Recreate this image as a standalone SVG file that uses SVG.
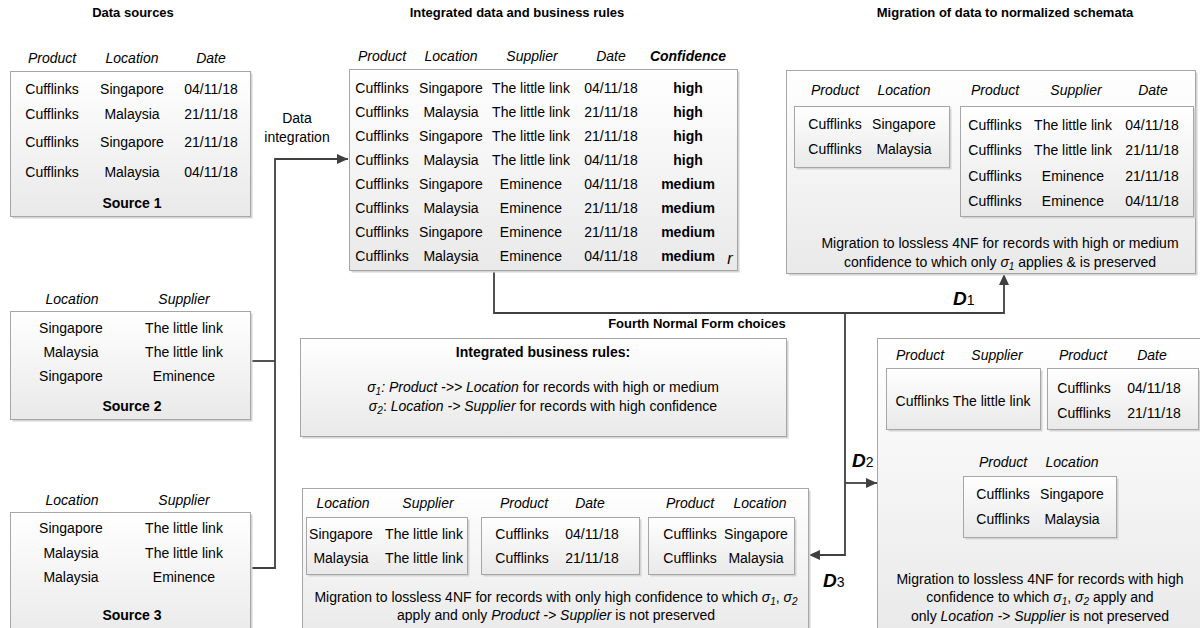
<svg xmlns="http://www.w3.org/2000/svg" width="1200" height="628" viewBox="0 0 1200 628">
<defs>
<linearGradient id="g" x1="0" y1="0" x2="0" y2="1">
<stop offset="0" stop-color="#ffffff"/>
<stop offset="1" stop-color="#e9e9e9"/>
</linearGradient>
<marker id="ah" markerUnits="userSpaceOnUse" markerWidth="11" markerHeight="10" refX="11" refY="5" orient="auto">
<path d="M0,0 L11,5 L0,10 z" fill="#404040"/>
</marker>
<style>
text{font-family:"Liberation Sans",Arial,sans-serif;font-size:14px;fill:#000;text-anchor:middle}
.i{font-style:italic}
.b{font-weight:bold}
.t{font-weight:bold;font-size:13px}
.s{font-size:10px}
.d{font-weight:bold;font-style:italic;font-size:19px;text-anchor:start}
.ds{font-size:14px;font-weight:normal;font-style:normal}
.box{fill:url(#g);stroke:#a6a6a6;stroke-width:1}
.sh{fill:#d4d4d4}
.c{fill:none;stroke:#404040;stroke-width:1.8}
</style>
</defs>

<g id="titles">
<text class="t" x="133" y="17">Data sources</text>
<text class="t" x="517" y="17">Integrated data and business rules</text>
<text class="t" x="1005" y="17">Migration of data to normalized schemata</text>
<text class="t" x="697" y="328">Fourth Normal Form choices</text>
</g>

<g id="connectors">
<path class="c" d="M250,361 H275"/>
<path class="c" d="M250,568 H275 V159 H348" marker-end="url(#ah)"/>
<path class="c" d="M494,270 V313 H1004 V274" marker-end="url(#ah)"/>
<path class="c" d="M845,313 V555 H809" marker-end="url(#ah)"/>
<path class="c" d="M845,483 H877" marker-end="url(#ah)"/>
<text x="297" y="123">Data</text>
<text x="297" y="142">integration</text>
<text class="d" x="953" y="305">D<tspan class="ds">1</tspan></text>
<text class="d" x="852" y="467">D<tspan class="ds">2</tspan></text>
<text class="d" x="823" y="587">D<tspan class="ds">3</tspan></text>
</g>

<g id="source1">
<rect class="sh" x="12.5" y="73.5" width="240" height="145"/>
<rect class="box" x="10.5" y="71.5" width="240" height="145"/>
<text class="i" x="52" y="63">Product</text>
<text class="i" x="132" y="63">Location</text>
<text class="i" x="211" y="63">Date</text>
<text x="52" y="94">Cufflinks</text><text x="132" y="94">Singapore</text><text x="211" y="94">04/11/18</text>
<text x="52" y="119">Cufflinks</text><text x="132" y="119">Malaysia</text><text x="211" y="119">21/11/18</text>
<text x="52" y="147">Cufflinks</text><text x="132" y="147">Singapore</text><text x="211" y="147">21/11/18</text>
<text x="52" y="177">Cufflinks</text><text x="132" y="177">Malaysia</text><text x="211" y="177">04/11/18</text>
<text class="b" x="132" y="208">Source 1</text>
</g>

<g id="source2">
<rect class="sh" x="12.5" y="313.5" width="240" height="108"/>
<rect class="box" x="10.5" y="311.5" width="240" height="108"/>
<text class="i" x="72" y="304">Location</text>
<text class="i" x="184" y="304">Supplier</text>
<text x="71" y="333">Singapore</text><text x="184" y="333">The little link</text>
<text x="71" y="357">Malaysia</text><text x="184" y="357">The little link</text>
<text x="71" y="381">Singapore</text><text x="184" y="381">Eminence</text>
<text class="b" x="132" y="411">Source 2</text>
</g>

<g id="source3">
<rect class="sh" x="12.5" y="514.5" width="240" height="130"/>
<rect class="box" x="10.5" y="512.5" width="240" height="130"/>
<text class="i" x="72" y="505">Location</text>
<text class="i" x="184" y="505">Supplier</text>
<text x="71" y="533">Singapore</text><text x="184" y="533">The little link</text>
<text x="71" y="558">Malaysia</text><text x="184" y="558">The little link</text>
<text x="71" y="582">Malaysia</text><text x="184" y="582">Eminence</text>
<text class="b" x="132" y="620">Source 3</text>
</g>

<g id="integrated">
<rect class="sh" x="351.5" y="71.5" width="388" height="201"/>
<rect class="box" x="349.5" y="69.5" width="388" height="201"/>
<text class="i" x="382" y="61">Product</text>
<text class="i" x="451" y="61">Location</text>
<text class="i" x="532" y="61">Supplier</text>
<text class="i" x="611" y="61">Date</text>
<text class="i b" x="688" y="61">Confidence</text>
<text x="382" y="93">Cufflinks</text><text x="451" y="93">Singapore</text><text x="531" y="93">The little link</text><text x="611" y="93">04/11/18</text><text class="b" x="688" y="93">high</text>
<text x="382" y="117">Cufflinks</text><text x="451" y="117">Malaysia</text><text x="531" y="117">The little link</text><text x="611" y="117">21/11/18</text><text class="b" x="688" y="117">high</text>
<text x="382" y="141">Cufflinks</text><text x="451" y="141">Singapore</text><text x="531" y="141">The little link</text><text x="611" y="141">21/11/18</text><text class="b" x="688" y="141">high</text>
<text x="382" y="165">Cufflinks</text><text x="451" y="165">Malaysia</text><text x="531" y="165">The little link</text><text x="611" y="165">04/11/18</text><text class="b" x="688" y="165">high</text>
<text x="382" y="189">Cufflinks</text><text x="451" y="189">Singapore</text><text x="531" y="189">Eminence</text><text x="611" y="189">04/11/18</text><text class="b" x="688" y="189">medium</text>
<text x="382" y="213">Cufflinks</text><text x="451" y="213">Malaysia</text><text x="531" y="213">Eminence</text><text x="611" y="213">21/11/18</text><text class="b" x="688" y="213">medium</text>
<text x="382" y="237">Cufflinks</text><text x="451" y="237">Singapore</text><text x="531" y="237">Eminence</text><text x="611" y="237">21/11/18</text><text class="b" x="688" y="237">medium</text>
<text x="382" y="261">Cufflinks</text><text x="451" y="261">Malaysia</text><text x="531" y="261">Eminence</text><text x="611" y="261">04/11/18</text><text class="b" x="688" y="261">medium</text>
<text class="i" x="730" y="264" style="font-size:16px">r</text>
</g>

<g id="rules">
<rect class="sh" x="302.5" y="340.5" width="486" height="98"/>
<rect class="box" x="300.5" y="338.5" width="486" height="98"/>
<text class="b" x="543" y="357">Integrated business rules:</text>
<text x="543" y="392"><tspan class="i">σ</tspan><tspan class="i s" dy="3">1</tspan><tspan class="i" dy="-3">: Product -&gt;&gt; Location</tspan> for records with high or medium</text>
<text x="543" y="411"><tspan class="i">σ</tspan><tspan class="i s" dy="3">2</tspan><tspan dy="-3">: </tspan><tspan class="i">Location -&gt; Supplier</tspan> for records with high confidence</text>
</g>

<g id="d1">
<rect class="sh" x="788.5" y="72.5" width="409" height="203"/>
<rect class="box" x="786.5" y="70.5" width="409" height="203"/>
<text class="i" x="835" y="95">Product</text>
<text class="i" x="904" y="95">Location</text>
<text class="i" x="995" y="95">Product</text>
<text class="i" x="1076" y="95">Supplier</text>
<text class="i" x="1153" y="95">Date</text>
<rect class="sh" x="796.5" y="108.5" width="155" height="61"/>
<rect class="box" x="794.5" y="106.5" width="155" height="61"/>
<text x="835" y="129">Cufflinks</text><text x="904" y="129">Singapore</text>
<text x="835" y="154">Cufflinks</text><text x="904" y="154">Malaysia</text>
<rect class="sh" x="962.5" y="108.5" width="233" height="110"/>
<rect class="box" x="960.5" y="106.5" width="233" height="110"/>
<text x="995" y="130">Cufflinks</text><text x="1073" y="130">The little link</text><text x="1152" y="130">04/11/18</text>
<text x="995" y="155">Cufflinks</text><text x="1073" y="155">The little link</text><text x="1152" y="155">21/11/18</text>
<text x="995" y="181">Cufflinks</text><text x="1073" y="181">Eminence</text><text x="1152" y="181">21/11/18</text>
<text x="995" y="206">Cufflinks</text><text x="1073" y="206">Eminence</text><text x="1152" y="206">04/11/18</text>
<text x="1000" y="248">Migration to lossless 4NF for records with high or medium</text>
<text x="1000" y="267">confidence to which only <tspan class="i">σ</tspan><tspan class="i s" dy="3">1</tspan><tspan dy="-3"> applies &amp; is preserved</tspan></text>
</g>

<g id="d2">
<rect class="sh" x="879.5" y="340.5" width="330" height="300"/>
<rect class="box" x="877.5" y="338.5" width="330" height="300"/>
<text class="i" x="920" y="360">Product</text>
<text class="i" x="997" y="360">Supplier</text>
<text class="i" x="1083" y="360">Product</text>
<text class="i" x="1152" y="360">Date</text>
<rect class="sh" x="888.5" y="370.5" width="154" height="61"/>
<rect class="box" x="886.5" y="368.5" width="154" height="61"/>
<text x="963" y="406">Cufflinks The little link</text>
<rect class="sh" x="1049.5" y="370.5" width="151" height="61"/>
<rect class="box" x="1047.5" y="368.5" width="151" height="61"/>
<text x="1084" y="393">Cufflinks</text><text x="1154" y="393">04/11/18</text>
<text x="1084" y="418">Cufflinks</text><text x="1154" y="418">21/11/18</text>
<text class="i" x="1003" y="467">Product</text>
<text class="i" x="1072" y="467">Location</text>
<rect class="sh" x="965.5" y="478.5" width="153" height="61"/>
<rect class="box" x="963.5" y="476.5" width="153" height="61"/>
<text x="1003" y="499">Cufflinks</text><text x="1072" y="499">Singapore</text>
<text x="1003" y="524">Cufflinks</text><text x="1072" y="524">Malaysia</text>
<text x="1040" y="584">Migration to lossless 4NF for records with high</text>
<text x="1040" y="602">confidence to which <tspan class="i">σ</tspan><tspan class="i s" dy="3">1</tspan><tspan dy="-3">, </tspan><tspan class="i">σ</tspan><tspan class="i s" dy="3">2</tspan><tspan dy="-3"> apply and</tspan></text>
<text x="1040" y="621">only <tspan class="i">Location -&gt; Supplier</tspan> is not preserved</text>
</g>

<g id="d3">
<rect class="sh" x="304.5" y="490.5" width="506" height="150"/>
<rect class="box" x="302.5" y="488.5" width="506" height="150"/>
<text class="i" x="343" y="508">Location</text>
<text class="i" x="428" y="508">Supplier</text>
<text class="i" x="524" y="508">Product</text>
<text class="i" x="590" y="508">Date</text>
<text class="i" x="690" y="508">Product</text>
<text class="i" x="760" y="508">Location</text>
<rect class="sh" x="308.5" y="519.5" width="161" height="57"/>
<rect class="box" x="306.5" y="517.5" width="161" height="57"/>
<text x="341" y="539">Singapore</text><text x="424" y="539">The little link</text>
<text x="341" y="563">Malaysia</text><text x="424" y="563">The little link</text>
<rect class="sh" x="483.5" y="519.5" width="158" height="57"/>
<rect class="box" x="481.5" y="517.5" width="158" height="57"/>
<text x="522" y="539">Cufflinks</text><text x="592" y="539">04/11/18</text>
<text x="522" y="563">Cufflinks</text><text x="592" y="563">21/11/18</text>
<rect class="sh" x="650.5" y="519.5" width="146" height="57"/>
<rect class="box" x="648.5" y="517.5" width="146" height="57"/>
<text x="690" y="539">Cufflinks</text><text x="756" y="539">Singapore</text>
<text x="690" y="563">Cufflinks</text><text x="756" y="563">Malaysia</text>
<text x="556" y="602">Migration to lossless 4NF for records with only high confidence to which <tspan class="i">σ</tspan><tspan class="i s" dy="3">1</tspan><tspan dy="-3">, </tspan><tspan class="i">σ</tspan><tspan class="i s" dy="3">2</tspan></text>
<text x="556" y="620">apply and only <tspan class="i">Product -&gt; Supplier</tspan> is not preserved</text>
</g>
</svg>
